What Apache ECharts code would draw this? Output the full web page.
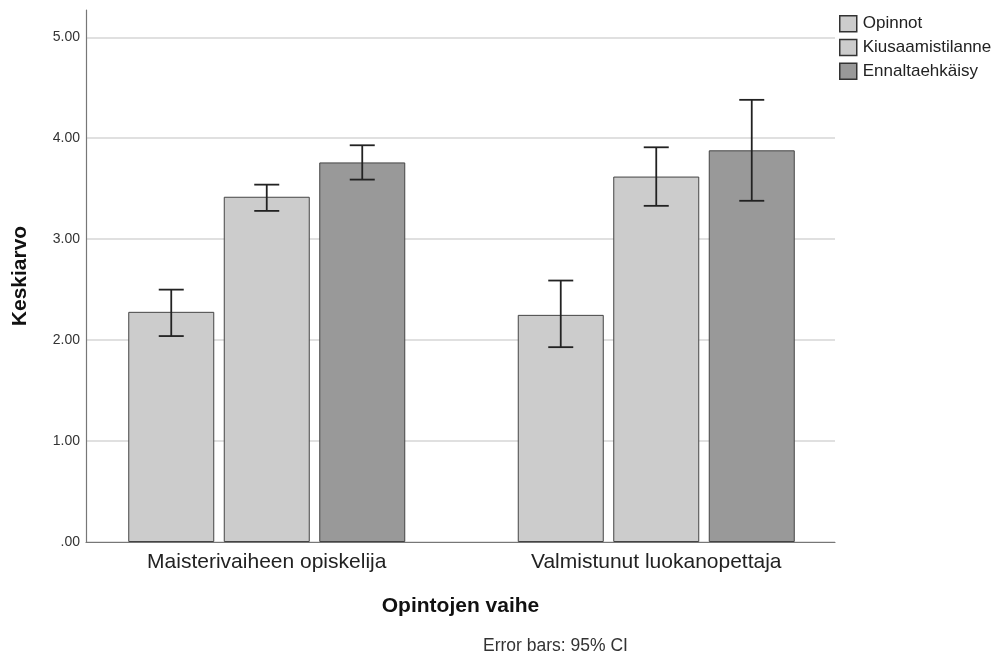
<!DOCTYPE html>
<html><head><meta charset="utf-8">
<script src="https://cdn.jsdelivr.net/npm/echarts@6/dist/echarts.min.js"></script>
<style>html,body{margin:0;padding:0;background:#fff}#c{width:993px;height:656px}</style>
</head><body><div id="c"></div>
<script>
const categories = ['Maisterivaiheen opiskelija', 'Valmistunut luokanopettaja'];
const seriesNames = ['Opinnot', 'Kiusaamistilanne', 'Ennaltaehkäisy'];
const meansOpinnot = [2.28, 2.25];
const meansKiusaamistilanne = [3.42, 3.62];
const meansEnnaltaehkaisy = [3.76, 3.88];
const ciLowOpinnot = [2.04, 1.93];
const ciHighOpinnot = [2.50, 2.59];
const ciLowKiusaamistilanne = [3.28, 3.33];
const ciHighKiusaamistilanne = [3.54, 3.91];
const ciLowEnnaltaehkaisy = [3.59, 3.38];
const ciHighEnnaltaehkaisy = [3.93, 4.38];
const yTicks = [0, 1, 2, 3, 4, 5];
const yMax = 5.27;
const xAxisTitle = 'Opintojen vaihe';
const yAxisTitle = 'Keskiarvo';
const footnote = 'Error bars: 95% CI';

const means = [meansOpinnot, meansKiusaamistilanne, meansEnnaltaehkaisy];
const lows = [ciLowOpinnot, ciLowKiusaamistilanne, ciLowEnnaltaehkaisy];
const highs = [ciHighOpinnot, ciHighKiusaamistilanne, ciHighEnnaltaehkaisy];
const colors = ['#cccccc', '#cccccc', '#999999'];
const BAR_W = 86, BAR_GAP_PX = 9.5;
const FONT = '"Liberation Sans", Arial, sans-serif';

const chart = echarts.init(document.getElementById('c'), null, {renderer: 'canvas'});

const barSeries = seriesNames.map((name, i) => ({
  name, type: 'bar', xAxisIndex: 1, yAxisIndex: 1,
  data: means[i], barWidth: BAR_W, barGap: (BAR_GAP_PX / BAR_W * 100) + '%',
  itemStyle: {color: colors[i], borderColor: '#444', borderWidth: 1},
  emphasis: {disabled: true}, z: 2
}));

const errSeries = seriesNames.map((name, i) => ({
  name: name + ' CI', type: 'custom', xAxisIndex: 1, yAxisIndex: 1, z: 5,
  data: categories.map((c, k) => [k, lows[i][k], highs[i][k]]),
  renderItem: function (params, api) {
    const lo = api.coord([api.value(0), api.value(1)]);
    const hi = api.coord([api.value(0), api.value(2)]);
    const cx = lo[0] + (i - 1) * (BAR_W + BAR_GAP_PX);
    const st = {stroke: '#222', lineWidth: 1.8};
    const cap = 12.5;
    return {type: 'group', children: [
      {type: 'line', shape: {x1: cx, y1: lo[1], x2: cx, y2: hi[1]}, style: st},
      {type: 'line', shape: {x1: cx - cap, y1: lo[1], x2: cx + cap, y2: lo[1]}, style: st},
      {type: 'line', shape: {x1: cx - cap, y1: hi[1], x2: cx + cap, y2: hi[1]}, style: st}
    ]};
  }
}));

chart.setOption({
  animation: false,
  textStyle: {fontFamily: FONT},
  grid: [
    {left: 86, right: 158, top: 10, bottom: 114},
    {left: 72, right: 142, top: 10, bottom: 114}
  ],
  legend: {
    data: seriesNames, orient: 'vertical', left: 834, top: 10,
    itemWidth: 17, itemHeight: 16, itemGap: 6.3, icon: 'rect',
    itemStyle: {borderColor: '#333', borderWidth: 1.5},
    textStyle: {fontSize: 17, color: '#222', fontFamily: FONT, padding: [0, 0, 0, 1]},
    selectedMode: false
  },
  xAxis: [
    {type: 'category', gridIndex: 0, data: categories,
     axisLine: {lineStyle: {color: '#777', width: 1.2}}, axisTick: {show: false},
     axisLabel: {show: false}, splitLine: {show: false},
     name: xAxisTitle, nameLocation: 'middle', nameGap: 54,
     nameTextStyle: {fontSize: 21, fontWeight: 'bold', color: '#111', fontFamily: FONT}},
    {type: 'category', gridIndex: 1, data: categories,
     axisLine: {show: false}, axisTick: {show: false},
     axisLabel: {fontSize: 21, color: '#222', margin: 10, fontFamily: FONT}}
  ],
  yAxis: [
    {type: 'value', gridIndex: 0, min: 0, max: yMax, interval: 1,
     axisLine: {show: true, lineStyle: {color: '#777', width: 1.2}}, axisTick: {show: false},
     axisLabel: {fontSize: 14, color: '#333', margin: 6, showMaxLabel: false, fontFamily: FONT,
       formatter: v => yTicks.includes(v) ? v.toFixed(2).replace(/^0/, '') : ''},
     splitLine: {show: true, showMaxLine: false, lineStyle: {color: '#d6d6d6', width: 1.5}},
     name: yAxisTitle, nameLocation: 'middle', nameGap: 55, nameRotate: 90,
     nameTextStyle: {fontSize: 21, fontWeight: 'bold', color: '#111', fontFamily: FONT}},
    {type: 'value', gridIndex: 1, min: 0, max: yMax, interval: 1, show: false,
     splitLine: {show: false}}
  ],
  series: [...barSeries, ...errSeries],
  graphic: [{type: 'text', left: 483, top: 637,
    style: {text: footnote, fontSize: 17.5, fill: '#333', fontFamily: FONT}}]
});
</script></body></html>
